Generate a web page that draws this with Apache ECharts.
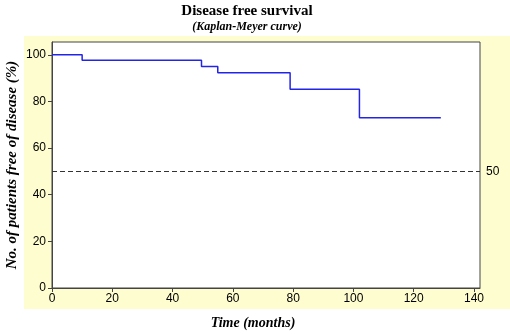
<!DOCTYPE html>
<html>
<head>
<meta charset="utf-8">
<script src="https://cdn.jsdelivr.net/npm/echarts@6/dist/echarts.min.js"></script>
<style>
  html, body { margin: 0; padding: 0; background: #fff; }
  #chart { width: 510px; height: 334px; }
</style>
</head>
<body>
<div id="chart"></div>
<script>
// Kaplan-Meyer step points
const months = [0, 10, 49.6, 55, 79, 102, 129]
const freePct = [100, 97.7, 95, 92.3, 85.2, 73, 73]
const xTicks = [0, 20, 40, 60, 80, 100, 120, 140]
const yTicks = [0, 20, 40, 60, 80, 100]
const refLevel = 50

const chart = echarts.init(document.getElementById('chart'))

const serif = '"Liberation Serif", "Times New Roman", serif'
const sans = '"Liberation Sans", Arial, sans-serif'

chart.setOption({
  animation: false,
  backgroundColor: '#fff',
  graphic: [
    // pale yellow panel behind the plot
    { type: 'rect', z: -10, shape: { x: 24, y: 36, width: 486, height: 273 }, style: { fill: '#fefdd0' } },
    { type: 'text', x: 247, y: 11, style: { text: 'Disease free survival', font: 'bold 15px ' + serif, fill: '#000', align: 'center', verticalAlign: 'middle' } },
    { type: 'text', x: 247, y: 27, style: { text: '(Kaplan-Meyer curve)', font: 'italic bold 12px ' + serif, fill: '#000', align: 'center', verticalAlign: 'middle' } }
  ],
  grid: {
    left: 52, top: 42, right: 30, bottom: 46,
    outerBoundsMode: 'none',
    show: true, backgroundColor: '#fff', borderColor: '#444', borderWidth: 1
  },
  xAxis: {
    type: 'value', min: 0, max: 142,
    name: 'Time (months)', nameLocation: 'middle', nameGap: 28,
    nameTextStyle: { fontFamily: serif, fontStyle: 'italic', fontWeight: 'bold', fontSize: 14, color: '#000', padding: [0, 26, 0, 0] },
    axisLine: { show: true, lineStyle: { color: '#444' } },
    axisTick: { show: true, length: 4, customValues: xTicks, lineStyle: { color: '#444' } },
    axisLabel: { customValues: xTicks, color: '#000', fontFamily: sans, fontSize: 12, margin: 5 },
    splitLine: { show: false }
  },
  yAxis: {
    type: 'value', min: 0, max: 105.5,
    name: 'No. of patients free of disease (%)', nameLocation: 'middle', nameGap: 32,
    nameMoveOverlap: false,
    nameTextStyle: { fontFamily: serif, fontStyle: 'italic', fontWeight: 'bold', fontSize: 15, color: '#000' },
    axisLine: { show: true, lineStyle: { color: '#444' } },
    axisTick: { show: true, length: 4, customValues: yTicks, lineStyle: { color: '#444' } },
    axisLabel: { customValues: yTicks, color: '#000', fontFamily: sans, fontSize: 12, margin: 6 },
    splitLine: { show: false }
  },
  series: [
    {
      type: 'line',
      step: 'end',
      symbol: 'none',
      data: months.map((m, i) => [m, freePct[i]]),
      lineStyle: { color: '#2424e6', width: 1.5 },
      markLine: {
        silent: true,
        symbol: 'none',
        lineStyle: { color: '#333', width: 1, type: [5, 3] },
        label: { show: true, position: 'end', formatter: String(refLevel), color: '#000', fontFamily: sans, fontSize: 12, distance: 6 },
        data: [{ yAxis: refLevel }]
      }
    }
  ]
})
</script>
</body>
</html>
